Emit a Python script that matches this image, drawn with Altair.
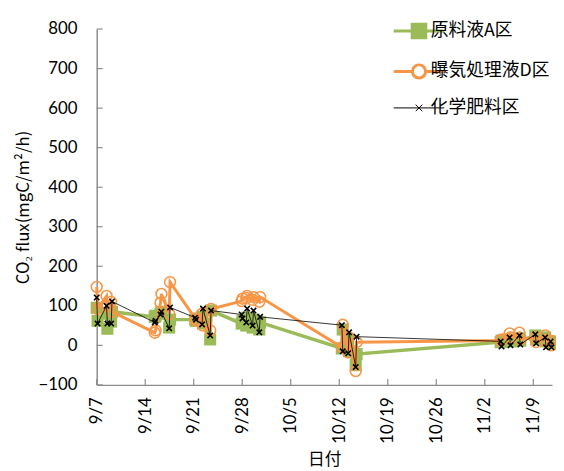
import altair as alt
import pandas as pd

SERIES = ["原料液A区", "曝気処理液D区", "化学肥料区"]
COLORS = ["#9BBB59", "#F79646", "#000000"]

times = [
    "2012-09-07T00:00", "2012-09-07T03:00", "2012-09-08T10:00", "2012-09-08T13:00", "2012-09-09T02:00", "2012-09-09T05:00",
    "2012-09-15T09:00", "2012-09-15T12:00", "2012-09-16T05:00", "2012-09-16T08:00", "2012-09-17T11:00", "2012-09-17T14:00",
    "2012-09-21T05:00", "2012-09-21T08:00", "2012-09-22T05:00", "2012-09-22T08:00", "2012-09-23T09:00", "2012-09-23T12:00",
    "2012-09-27T22:00", "2012-09-28T01:00", "2012-09-28T14:00", "2012-09-28T17:00", "2012-09-29T12:00", "2012-09-29T15:00",
    "2012-09-30T11:00", "2012-09-30T14:00",
    "2012-10-12T09:00", "2012-10-12T12:00", "2012-10-13T07:00", "2012-10-13T10:00", "2012-10-14T09:00", "2012-10-14T12:00",
    "2012-11-04T07:00", "2012-11-04T10:00", "2012-11-05T14:00", "2012-11-05T17:00", "2012-11-07T00:00", "2012-11-07T03:00",
    "2012-11-09T07:00", "2012-11-09T10:00", "2012-11-10T17:00", "2012-11-10T20:00", "2012-11-11T12:00", "2012-11-11T15:00",
]

green_vals = [
    95, 62, 80, 42, 60, 85,
    72, 75, 80, 85, 45, 65,
    65, 62, 72, 55, 15, 88,
    55, 62, 50, 70, 45, 65, 40, 58,
    -8, 40, 15, -15, -50, -22,
    8, 12, 15, 10, 18, 12,
    25, 15, 20, 10, 10, 5,
]

orange_vals = [
    148, 92, 125, 100, 110, 85,
    32, 38, 108, 130, 80, 160,
    68, 62, 80, 50, 38, 92,
    112, 118, 120, 125, 115, 122, 110, 122,
    -5, 52, -18, 20, -65, 8,
    12, 15, 30, 20, 32, 15,
    20, 8, 25, 10, 12, 0,
]

black_vals = [
    121, 55, 100, 55, 55, 111,
    58, 62, 78, 85, 43, 96,
    70, 65, 53, 93, 25, 88,
    78, 68, 58, 93, 50, 88, 33, 72,
    51, -15, -20, 33, -55, 22,
    10, -3, 20, 0, 25, 2,
    28, 5, 20, -5, 10, -5,
]

x_tick_md = [(9, 7), (9, 14), (9, 21), (9, 28), (10, 5), (10, 12), (10, 19), (10, 26), (11, 2), (11, 9)]
y_ticks = list(range(-100, 801, 100))

W, H = 462, 361

df = pd.DataFrame({
    "t": times * 3,
    "v": green_vals + orange_vals + black_vals,
    "series": [SERIES[0]] * len(times) + [SERIES[1]] * len(times) + [SERIES[2]] * len(times),
})
xt_df = pd.DataFrame({"t": [f"2012-{m:02d}-{d:02d}T00:00" for m, d in x_tick_md]})
yt_df = pd.DataFrame({"v": y_ticks})

x_enc = alt.X(
    "t:T",
    scale=alt.Scale(domain=[alt.DateTime(year=2012, month=9, date=7),
                            alt.DateTime(year=2012, month=11, date=11, hours=17)], nice=False),
    axis=alt.Axis(values=[alt.DateTime(year=2012, month=m, date=d) for m, d in x_tick_md],
                  format="%-m/%-d", labelAngle=-90, title="日付", labelPadding=12, titlePadding=9),
)
y_enc = alt.Y(
    "v:Q",
    scale=alt.Scale(domain=[-100, 800], nice=False),
    axis=alt.Axis(values=y_ticks, title="CO₂ flux(mgC/m²/h)", labelPadding=20, titlePadding=6),
)

shape_expr = (
    "datum.value === '原料液A区' ? 'M-1,0H1M-0.27,-0.27H0.27V0.27H-0.27Z' : "
    "datum.value === '曝気処理液D区' ? 'M-1,0H-0.26M0.26,0H1M-0.26,0A0.26,0.26 0 1,1 0.26,0A0.26,0.26 0 1,1 -0.26,0Z' : "
    "'M-1,0H1M-0.13,-0.13L0.13,0.13M-0.13,0.13L0.13,-0.13'"
)
fill_expr = "datum.value === '原料液A区' ? '#9BBB59' : datum.value === '曝気処理液D区' ? 'white' : 'transparent'"
sw_expr = "datum.value === '化学肥料区' ? 1 : 3"

legend = alt.Legend(
    title=None, orient="none", legendX=318, legendY=-7,
    symbolSize=2630, rowPadding=15, labelOffset=3,
    labelFont="Noto Sans CJK JP", labelFontSize=18, labelColor="#000",
    symbolType={"expr": shape_expr},
    symbolFillColor={"expr": fill_expr},
    symbolStrokeWidth={"expr": sw_expr},
    symbolOpacity=1,
)
color_enc = alt.Color("series:N", scale=alt.Scale(domain=SERIES, range=COLORS), legend=legend)

base = alt.Chart(df)

def sel(i):
    return base.transform_filter(alt.datum.series == SERIES[i])

line_g = sel(0).mark_line(strokeWidth=3.5).encode(x=x_enc, y=y_enc, color=color_enc)
pts_g = sel(0).mark_square(size=150, color=COLORS[0], opacity=1).encode(x=x_enc, y=y_enc)
line_o = sel(1).mark_line(strokeWidth=3).encode(x=x_enc, y=y_enc, color=color_enc)
pts_o = sel(1).mark_point(shape="circle", size=120, color=COLORS[1], filled=False,
                          strokeWidth=1.6, opacity=1).encode(x=x_enc, y=y_enc)
line_b = sel(2).mark_line(strokeWidth=0.8).encode(x=x_enc, y=y_enc, color=color_enc)
pts_b = sel(2).mark_point(shape="M-1,-1L1,1M-1,1L1,-1", size=30, color=COLORS[2], filled=False,
                          strokeWidth=1.6, opacity=1).encode(x=x_enc, y=y_enc)

xticks = alt.Chart(xt_df).mark_rule(color="#8c8c8c", strokeWidth=1.2).encode(
    x=x_enc, y=alt.value(H), y2=alt.value(H - 6))
yticks = alt.Chart(yt_df).mark_rule(color="#8c8c8c", strokeWidth=1.2).encode(
    y=y_enc, x=alt.value(0), x2=alt.value(6))

chart = alt.layer(
    xticks, yticks, line_g, pts_g, line_o, pts_o, line_b, pts_b
).properties(
    width=W, height=H,
    autosize=alt.AutoSizeParams(type="none"),
    padding={"left": 90, "top": 18, "right": 4, "bottom": 84},
).configure_view(stroke=None).configure_axis(
    domainColor="#8c8c8c", domainWidth=1.5, ticks=False, grid=False,
    labelFont="Lato", labelFontSize=17, labelColor="#000",
    titleFont="Noto Sans CJK JP", titleFontSize=17, titleColor="#000", titleFontWeight="normal",
)

chart.save("out.html", embed_options={"renderer": "svg", "actions": False})
